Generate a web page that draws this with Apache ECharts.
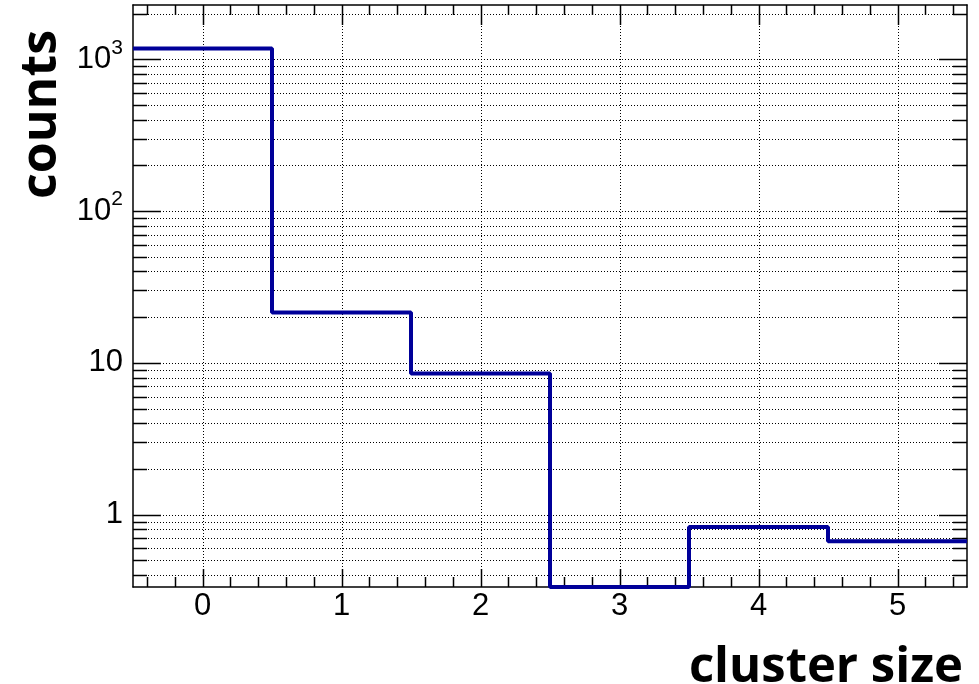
<!DOCTYPE html>
<html>
<head>
<meta charset="utf-8">
<script src="https://cdn.jsdelivr.net/npm/echarts@6/dist/echarts.min.js"></script>
<style>
  html, body { margin: 0; padding: 0; background: #fff; }
  #chart { width: 979px; height: 684px; }
</style>
</head>
<body>
<div id="chart"></div>
<script>
// Cluster-size histogram: bin centres and entries per bin
const binCenters = [0, 1, 2, 3, 4, 5];
const counts = [1180, 21.5, 8.5, 0, 0.83, 0.667];

// Axis tick labels
const xTickValues = [0, 1, 2, 3, 4, 5];
const yDecades = [1, 10, 100, 1000];
const yTickLabels = ['1', '10', '{b|10}{s|2}', '{b|10}{s|3}'];

const xTitle = 'cluster size';
const yTitle = 'counts';

// Axis ranges (log y floor at half the smallest positive content)
const binWidth = 1;
const xMin = binCenters[0] - binWidth / 2;
const xMax = binCenters[binCenters.length - 1] + binWidth / 2;
const yMin = 0.5 * Math.min(...counts.filter(v => v > 0));
const yMax = 2280;

// Step outline through bin edges; empty bins sit on the axis floor
const stepData = binCenters.map((c, i) => [c - binWidth / 2, Math.max(counts[i], yMin)]);
stepData.push([xMax, Math.max(counts[counts.length - 1], yMin)]);

const INK = '#000';
const LABEL_FONT = '"Liberation Sans", Arial, sans-serif';
const TITLE_FONT = '"Open Sans", "Noto Sans", sans-serif';

function seg(x1, y1, x2, y2, style) {
  return { type: 'line', silent: true, shape: { x1, y1, x2, y2 }, style };
}

// Dotted grid plus major/minor ticks on all four sides
function renderFrame(params, api) {
  const children = [];
  const [xl, yb] = api.coord([xMin, yMin]);
  const [xr, yt] = api.coord([xMax, yMax]);
  const dotted = { stroke: INK, lineWidth: 1, lineDash: [1, 2] };
  const solid = { stroke: INK, lineWidth: 1.5 };

  for (let e = -1; e <= 3; e++) {
    for (let m = 1; m <= 9; m++) {
      const v = m * Math.pow(10, e);
      if (v <= yMin * 1.0001 || v >= yMax * 0.9999) continue;
      const y = Math.round(api.coord([xMin, v])[1]) + 0.5;
      const len = m === 1 ? 28 : 14;
      children.push(seg(xl, y, xr, y, dotted));
      children.push(seg(xl, y, xl + len, y, solid));
      children.push(seg(xr, y, xr - len, y, solid));
    }
  }
  for (let i = Math.ceil(xMin * 5); i <= Math.floor(xMax * 5); i++) {
    const v = i / 5;
    if (v <= xMin + 1e-9 || v >= xMax - 1e-9) continue;
    const x = Math.round(api.coord([v, yMin])[0]) + 0.5;
    const major = i % 5 === 0;
    if (major) children.push(seg(x, yt, x, yb, dotted));
    children.push(seg(x, yb, x, yb - (major ? 18 : 10), solid));
    children.push(seg(x, yt, x, yt + (major ? 20 : 10), solid));
  }
  return { type: 'group', children };
}

const chart = echarts.init(document.getElementById('chart'), null, { renderer: 'canvas' });

const axisLineStyle = { show: true, onZero: false, lineStyle: { color: INK, width: 1.5 } };

chart.setOption({
  animation: false,
  backgroundColor: '#fff',
  grid: { left: 133, right: 12, top: 5, bottom: 97, containLabel: false },
  xAxis: [
    {
      type: 'value', position: 'bottom', min: xMin, max: xMax,
      axisLine: axisLineStyle, axisTick: { show: false }, splitLine: { show: false },
      axisLabel: {
        customValues: xTickValues, color: INK, fontSize: 31, fontFamily: LABEL_FONT, margin: 4,
        formatter: v => String(Math.round(v))
      }
    },
    {
      type: 'value', position: 'top', min: xMin, max: xMax,
      axisLine: axisLineStyle, axisTick: { show: false }, splitLine: { show: false },
      axisLabel: { show: false }
    }
  ],
  yAxis: [
    {
      type: 'log', logBase: 10, position: 'left', min: yMin, max: yMax,
      axisLine: axisLineStyle, axisTick: { show: false }, splitLine: { show: false },
      axisLabel: {
        customValues: yDecades, color: INK, fontSize: 31, fontFamily: LABEL_FONT, margin: 10,
        formatter: v => {
          const i = yDecades.findIndex(d => Math.abs(v - d) / d < 1e-6);
          return i >= 0 ? yTickLabels[i] : '';
        },
        rich: {
          b: { fontSize: 31, fontFamily: LABEL_FONT, color: INK, lineHeight: 44 },
          s: { fontSize: 21, fontFamily: LABEL_FONT, color: INK, lineHeight: 20, verticalAlign: 'top' }
        }
      }
    },
    {
      type: 'log', logBase: 10, position: 'right', min: yMin, max: yMax,
      axisLine: axisLineStyle, axisTick: { show: false }, splitLine: { show: false },
      axisLabel: { show: false }
    }
  ],
  graphic: [
    {
      type: 'text', x: 42, y: 30, rotation: Math.PI / 2,
      style: {
        text: yTitle, fill: INK, font: 'bold 50px ' + TITLE_FONT,
        textAlign: 'right', textVerticalAlign: 'middle'
      }
    },
    {
      type: 'text', x: 963, y: 693,
      style: {
        text: xTitle, fill: INK, font: 'bold 49px ' + TITLE_FONT,
        textAlign: 'right', textVerticalAlign: 'bottom'
      }
    }
  ],
  series: [
    {
      type: 'custom', coordinateSystem: 'cartesian2d', xAxisIndex: 0, yAxisIndex: 0,
      data: [[xMin, yMin]], renderItem: renderFrame, silent: true, z: 1, clip: false
    },
    {
      type: 'line', xAxisIndex: 0, yAxisIndex: 0, data: stepData, step: 'end',
      showSymbol: false, symbol: 'none', clip: false, z: 3,
      lineStyle: { color: '#000099', width: 4 }
    }
  ]
});
</script>
</body>
</html>
